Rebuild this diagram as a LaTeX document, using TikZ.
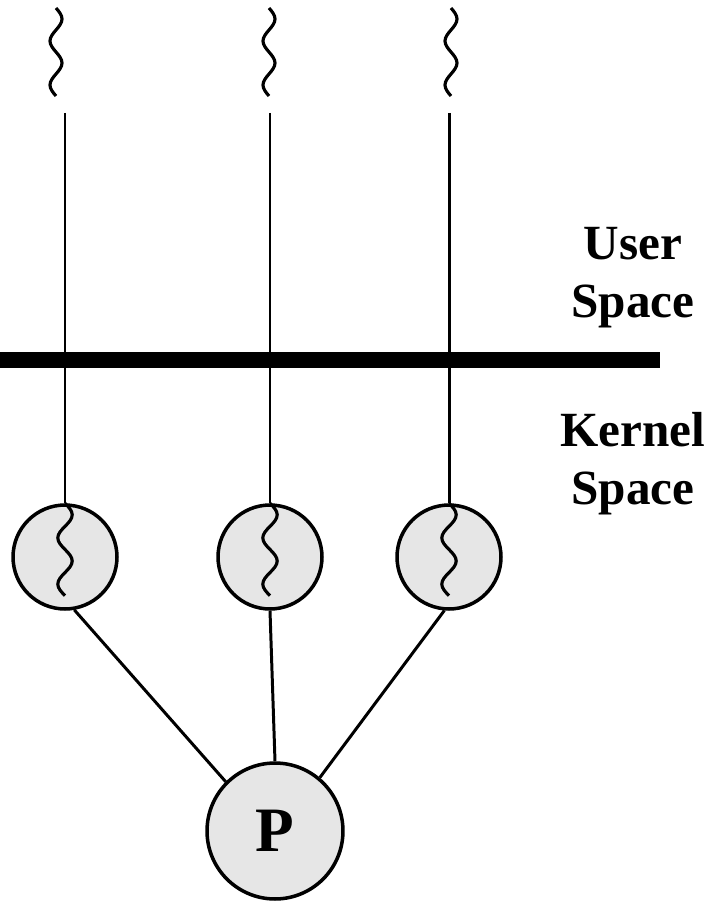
\documentclass[tikz,border=0pt]{standalone}
\usepackage{fontspec}
\setmainfont{Liberation Serif}
\usepackage{tikz}
\usetikzlibrary{positioning, calc}
\definecolor{threadBg}{RGB}{230, 230, 230}
\tikzstyle{line} = [line width=1.7pt]
\tikzstyle{bar} = [line width=0.32cm]
\tikzstyle{kthread} = [circle, draw=black, line width=2pt, fill=threadBg, minimum size=2.08cm, inner sep=0pt]
\tikzstyle{proc} = [kthread, minimum size=2.72cm, font=\fontsize{36}{40}\selectfont\bfseries]
\tikzstyle{spacetext} = [align=center, inner sep=0pt, anchor=north, font=\fontsize{28}{33}\selectfont\bfseries]
\tikzset{
  thread/.pic={
    \draw [line width=1.8pt, rotate=-90] (0,0) sin (11,-6) cos (22,0) sin (33,6) cos (44,0)
      sin (55,-6) cos (66,0) sin (77,6) cos (88,0);
  }
}

\begin{document}
\begin{tikzpicture}[x=0.02cm, y=-0.02cm]
\useasboundingbox (0,0) rectangle (712,902);

% user level threads
\pic at (56,8) {thread};
\pic at (269,8) {thread};
\pic at (451,8) {thread};
\coordinate (top1) at (65,113);
\coordinate (top2) at (270,113);
\coordinate (top3) at (449,113);

% boundary
\coordinate (barL) at (0,360);
\coordinate (barR) at (660,360);
\draw [bar] (barL) -- (barR);
\node (user) [spacetext] at (633,227) {User\\Space};
\node (kernel) [spacetext] at (633,412) {Kernel\\Space};

% kernel threads
\node (k1) [kthread] at (65,557) {};
\node (k2) [kthread] at (270,557) {};
\node (k3) [kthread] at (449,557) {};
\pic [xscale=1.2, yscale=1.05] at (k1.north) {thread};
\pic [xscale=1.2, yscale=1.05] at (k2.north) {thread};
\pic [xscale=1.2, yscale=1.05] at (k3.north) {thread};

\node (p) [proc] at (275,831) {P};

\draw [line] (top1) -- (k1.north);
\draw [line] (top2) -- (k2.north);
\draw [line] (top3) -- (k3.north);
\draw [line] (k1.-80) -- (p.135);
\draw [line] (k2.south) -- (p.north);
\draw [line] (k3.-95) -- (p.50);

\end{tikzpicture}
\end{document}
